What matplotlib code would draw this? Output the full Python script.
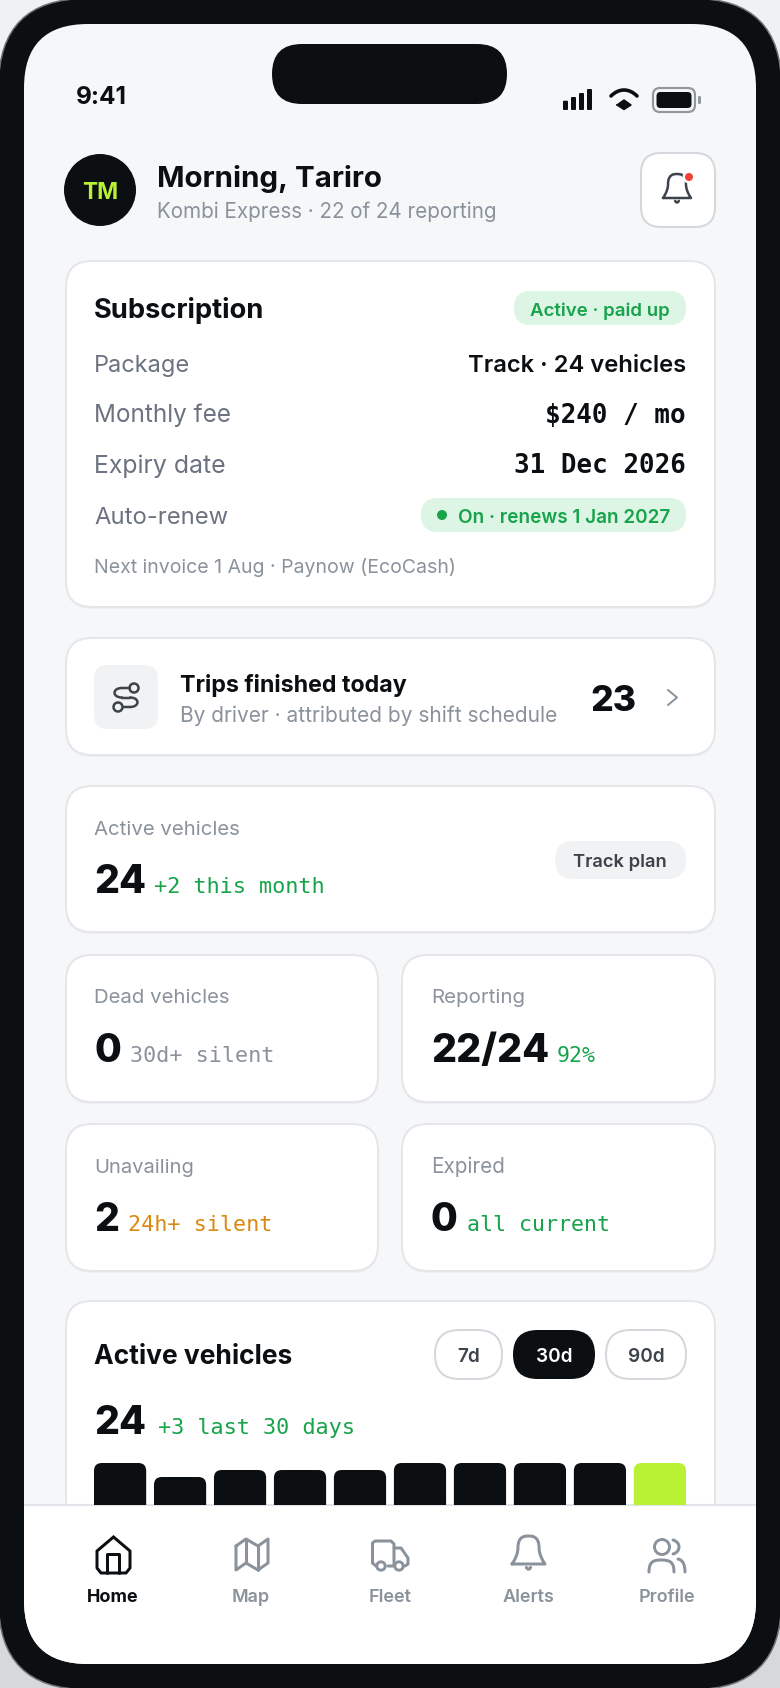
import matplotlib
matplotlib.use("Agg")
import matplotlib.pyplot as plt
from matplotlib.patches import FancyBboxPatch, Circle, PathPatch, Rectangle
from matplotlib.path import Path

# Data
bar_values = [24, 22, 23, 23, 23, 24, 24, 24, 24, 24]
sub_labels = ["Package", "Monthly fee", "Expiry date", "Auto-renew"]
sub_baselines = [372, 422, 473, 524]
sub_widths = [96, 137, 132, 134]
range_labels = ["7d", "30d", "90d"]
tab_labels = ["Home", "Map", "Fleet", "Alerts", "Profile"]
tab_centres = [113, 251, 390, 528, 667]

# Colours
BG = "#f6f7f9"
DARK = "#0b0f12"
MUTED = "#8a929c"
LABEL = "#6b7280"
GREEN = "#16a34a"
PILL_GREEN = "#dcf5e5"
LIME = "#b9f135"
BORDER = "#e4e6ea"
ORANGE = "#d98a12"
SANS = "Inter"
MONO = "DejaVu Sans Mono"

W, H = 780, 1688
fig = plt.figure(figsize=(W / 100, H / 100), dpi=100, facecolor="#f0f1f2")
ax = fig.add_axes([0, 0, 1, 1], zorder=0)
ax.set_xlim(0, W)
ax.set_ylim(H, 0)
ax.axis("off")
renderer = fig.canvas.get_renderer()


def box(x0, y0, x1, y1, r, fc, ec="none", lw=0, z=2):
    p = FancyBboxPatch((x0, y0), x1 - x0, y1 - y0, boxstyle=f"round,pad=0,rounding_size={r}",
                       fc=fc, ec=ec, lw=lw * 0.72, zorder=z)
    ax.add_patch(p)
    return p


def text(x, y, s, px, width=None, color=DARK, weight="normal", family=SANS, ha="left", z=5):
    # px is the css font size, width (when given) fits the text to the measured width
    t = ax.text(x, y, s, fontsize=px * 0.72, color=color, weight=weight, family=family,
                ha=ha, va="baseline", zorder=z)
    if width:
        w = t.get_window_extent(renderer).width
        t.set_fontsize(px * 0.72 * width / w)
    return t


def line(pts, color, lw=3, z=6, codes=None, closed=False, fc="none"):
    if closed:
        pts = list(pts) + [pts[0]]
    pp = PathPatch(Path(pts, codes), fc=fc, ec=color, lw=lw * 0.72, capstyle="round",
                   joinstyle="round", zorder=z)
    ax.add_patch(pp)
    return pp


def card(x0, y0, x1, y1, r=26):
    box(x0, y0 + 3, x1, y1 + 2, r, "#eceef1", z=2)
    box(x0, y0, x1, y1, r, "white", BORDER, 2, z=3)


def bell(cx, top, w, h, color, lw, z=6):
    # w and h are the body size, clapper sits under it
    l, r = cx - w / 2, cx + w / 2
    b = top + h
    M, L, C = Path.MOVETO, Path.LINETO, Path.CURVE4
    pts = [(l, b), (r, b), (r - w * .12, b - h * .2), (r - w * .18, b - h * .4), (r - w * .18, b - h * .58),
           (r - w * .18, top - h * .0), (cx + w * .1, top), (cx, top),
           (cx - w * .1, top), (l + w * .18, top), (l + w * .18, b - h * .58),
           (l + w * .18, b - h * .4), (l + w * .12, b - h * .2), (l, b)]
    codes = [M, L, C, C, C, C, C, C, C, C, C, C, C, C]
    line(pts, color, lw, z=z, codes=codes)
    cl = h * .2
    line([(cx - cl / 2.6, b + cl * .6), (cx - cl / 6, b + cl * 1.05), (cx + cl / 6, b + cl * 1.05),
          (cx + cl / 2.6, b + cl * .6)], color, lw, z=z, codes=[M, C, C, C])


# Backdrop is darker towards the bottom, then phone body and screen
ax.add_patch(Rectangle((0, 844), W, 844, fc="#d6d9db", ec="none", zorder=0.5))
box(-1.5, -1.5, W + 1.5, H + 1.5, 88, DARK, "#70757a", 1.5, z=1)
screen = box(24, 24, 756, 1664, 64, BG, z=1.5)
box(272, 44, 507, 104, 30, DARK, z=2)

# Status bar
text(76, 104, "9:41", 27, width=51, weight="bold")
for x, top in zip([563, 571, 579, 587], [100.7, 97, 93, 89]):
    box(x, top, x + 5, 110, 1, DARK, z=6)
M, L, C = Path.MOVETO, Path.LINETO, Path.CURVE4
line([(611, 96), (619, 88), (629, 88), (637, 96)], DARK, 3.6, codes=[M, C, C, C])
line([(617, 105), (624, 100), (631, 105), (624, 109.5)], DARK, 1.5, closed=True, fc=DARK)
box(653, 88, 695, 112, 7, "none", "#8f979f", 2.2, z=6)
box(656.5, 92, 691.5, 108, 4, DARK, z=6)
box(698, 96, 701, 104, 1.3, "#8f979f", z=6)

# Header
ax.add_patch(Circle((100, 190), 36, fc=DARK, zorder=3))
text(100, 199, "TM", 23, width=36, color=LIME, weight="bold", ha="center")
text(157, 187, "Morning, Tariro", 30, width=225, weight="bold")
text(157, 218, "Kombi Express · 22 of 24 reporting", 21, width=341, color=MUTED)
box(641, 153, 715, 227, 20, "white", "#d4d7db", 2, z=3)
bell(677, 174, 28, 24, "#3c434b", 2.5)
ax.add_patch(Circle((689, 177), 6.5, fc="white", zorder=6.5))
ax.add_patch(Circle((689, 177), 4, fc="#ef4136", zorder=7))

# Subscription card
card(66, 261, 715, 607)
text(94, 318, "Subscription", 27, width=170, weight="bold")
box(514, 291, 686, 325, 17, PILL_GREEN, z=4)
text(530, 316, "Active · paid up", 18, width=140, color=GREEN, weight="semibold")
for lab, yb, wd in zip(sub_labels, sub_baselines, sub_widths):
    text(94, yb, lab, 24, color=LABEL, width=wd)
text(686, 372, "Track · 24 vehicles", 24, width=218, weight="semibold", ha="right")
text(686, 423, "$240 / mo", 25, width=140, family=MONO, weight="bold", ha="right")
text(686, 473, "31 Dec 2026", 25, width=171, family=MONO, weight="bold", ha="right")
box(421, 498, 686, 532, 17, PILL_GREEN, z=4)
ax.add_patch(Circle((442, 515), 5, fc=GREEN, zorder=5))
text(458, 523, "On · renews 1 Jan 2027", 18, width=212, color=GREEN, weight="semibold")
text(94, 573, "Next invoice 1 Aug · Paynow (EcoCash)", 18, width=361, color=MUTED)

# Trips card
card(66, 638, 715, 755)
box(94, 665, 158, 729, 14, "#f1f2f4", z=4)
ROUTE = "#3c434b"
ax.add_patch(Circle((134, 688), 4.5, fc="none", ec=ROUTE, lw=1.8, zorder=6))
ax.add_patch(Circle((118, 707), 4.5, fc="none", ec=ROUTE, lw=1.8, zorder=6))
line([(129.5, 688), (122, 688)], ROUTE, 2.5)
line([(122, 688), (112, 688), (112, 697.5), (122, 697.5)], ROUTE, 2.5, codes=[M, C, C, C])
line([(122, 697.5), (130, 697.5)], ROUTE, 2.5)
line([(130, 697.5), (140, 697.5), (140, 707), (130, 707)], ROUTE, 2.5, codes=[M, C, C, C])
line([(130, 707), (122.5, 707)], ROUTE, 2.5)
text(180, 692, "Trips finished today", 24, width=227, weight="bold")
text(180, 722, "By driver · attributed by shift schedule", 20, width=377, color=MUTED)
text(590, 711, "23", 38, width=46, weight="heavy")
line([(668, 690), (677, 697.5), (668, 705)], MUTED, 2)

# Active vehicles summary
card(66, 786, 715, 932)
text(94, 835, "Active vehicles", 19, width=146, color=MUTED)
text(94, 893, "24", 42, width=52, weight="heavy")
text(154, 893, "+2 this month", 21, width=171, color=GREEN, family=MONO)
box(555, 841, 686, 879, 19, "#f1f2f4", z=4)
text(573, 867, "Track plan", 18, width=94, color="#3c434b", weight="semibold")

# Stat cards
card(66, 955, 378, 1102)
card(402, 955, 715, 1102)
card(66, 1124, 378, 1271)
card(402, 1124, 715, 1271)
text(94, 1003, "Dead vehicles", 19, width=136, color=MUTED)
text(431, 1003, "Reporting", 19, width=94, color=MUTED)
text(94, 1173, "Unavailing", 19, width=100, color=MUTED)
text(431, 1173, "Expired", 19, width=74, color=MUTED)
text(94, 1062, "0", 42, width=27, weight="heavy")
text(130, 1062, "30d+ silent", 21, width=144, color=MUTED, family=MONO)
text(431, 1062, "22/24", 42, width=118, weight="heavy")
text(557, 1062, "92%", 19, width=39, color=GREEN, family=MONO)
text(94, 1231, "2", 42, width=25, weight="heavy")
text(128, 1231, "24h+ silent", 21, width=144, color=ORANGE, family=MONO)
text(431, 1231, "0", 42, width=27, weight="heavy")
text(467, 1231, "all current", 21, width=143, color=GREEN, family=MONO)

# Active vehicles chart card
card(66, 1301, 715, 1620)
text(94, 1364, "Active vehicles", 25, width=198, weight="bold")
pill_x = [(435, 502), (513, 595), (606, 686)]
for lab, (x0, x1) in zip(range_labels, pill_x):
    on = lab == "30d"
    box(x0, 1330, x1, 1379, 24.5, DARK if on else "white", "none" if on else "#d4d7db", 2, z=4)
    text((x0 + x1) / 2, 1362, lab, 19, color="white" if on else "#3c434b", weight="semibold", ha="center")
text(94, 1434, "24", 42, width=52, weight="heavy")
text(158, 1434, "+3 last 30 days", 21, width=197, color=GREEN, family=MONO)

# Bars, 1 vehicle is 7 px and the tab bar cuts them at value 18
ax_bars = fig.add_axes([94 / W, 1 - 1505 / H, 592 / W, 42 / H], zorder=1)
ax_bars.set_xlim(-0.0, 9.87)
ax_bars.set_ylim(18, 24)
ax_bars.axis("off")
aspect = (592 / 9.87) / 7
for i, v in enumerate(bar_values):
    col = LIME if i == len(bar_values) - 1 else DARK
    ax_bars.add_patch(FancyBboxPatch((i, 10), 0.87, v - 10, boxstyle="round,pad=0,rounding_size=0.13",
                                     mutation_aspect=aspect, fc=col, ec="none"))

# Tab bar, clipped to the screen corners
tab = Rectangle((24, 1505), 732, 170, fc="white", zorder=8)
ax.add_patch(tab)
tab.set_clip_path(screen)
ax.plot([24, 756], [1505, 1505], color="#e2e5e9", lw=1.5, zorder=9, solid_capstyle="butt")
for i, (lab, cx) in enumerate(zip(tab_labels, tab_centres)):
    col = DARK if i == 0 else MUTED
    text(cx, 1602, lab, 18, color=col, weight="bold" if i == 0 else "semibold", ha="center", z=10)


def icon(pts, color, lw=3, codes=None, closed=False):
    return line(pts, color, lw, z=10, codes=codes, closed=closed)


# Home
icon([(113.5, 1537), (97, 1551), (97, 1568), (101, 1573), (126, 1573), (130, 1568), (130, 1551)], DARK, closed=True)
icon([(107, 1573), (107, 1554), (119, 1554), (119, 1573)], DARK)
# Map
icon([(236, 1546), (246, 1539), (258, 1546), (268, 1539), (268, 1563), (258, 1570), (246, 1563), (236, 1570)], MUTED, closed=True)
icon([(246, 1539), (246, 1563)], MUTED)
icon([(258, 1546), (258, 1570)], MUTED)
# Fleet
icon([(376, 1566), (372.5, 1563), (372.5, 1543), (375, 1541), (391, 1541), (394, 1544), (394, 1566), (388, 1566)], MUTED)
icon([(394, 1548), (401, 1548), (408, 1558), (408, 1564), (405, 1566)], MUTED)
for wx in (381, 399):
    ax.add_patch(Circle((wx, 1566), 4.2, fc="white", ec=MUTED, lw=2.1, zorder=10))
# Alerts
bell(528.5, 1536, 33, 28, MUTED, 3, z=10)
# Profile
ax.add_patch(Circle((662, 1547), 7.5, fc="none", ec=MUTED, lw=2.1, zorder=10))
icon([(673, 1540), (681, 1542), (681, 1552), (673, 1554)], MUTED, codes=[M, C, C, C])
icon([(649, 1572), (649, 1562), (653, 1560), (661, 1560), (670, 1560), (674, 1562), (674, 1572)], MUTED,
     codes=[M, C, C, L, C, C, C])
icon([(678, 1559), (683, 1560), (685, 1565), (685, 1572)], MUTED, codes=[M, C, C, C])

fig.savefig("out.png", dpi=100)
